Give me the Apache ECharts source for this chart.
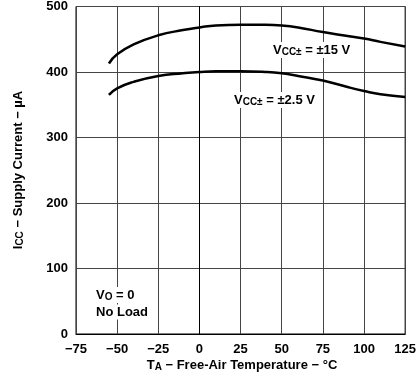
<!DOCTYPE html>
<html>
<head>
<meta charset="utf-8">
<script src="https://cdn.jsdelivr.net/npm/echarts@6/dist/echarts.min.js"></script>
<style>
  html, body { margin: 0; padding: 0; background: #fff; }
  #chart { width: 419px; height: 376px; }
</style>
</head>
<body>
<div id="chart"></div>
<script>
// free-air temperature (°C)
var temps = [-55, -50, -40, -25, -10, 0, 10, 25, 40, 50, 60, 75, 90, 100, 110, 125];
// supply current (uA), Vcc = +-15 V
var icc15 = [413, 427, 442, 456, 464, 468, 471, 472, 472, 471, 468, 461, 455, 451, 446, 439];
// supply current (uA), Vcc = +-2.5 V
var icc25 = [365, 375, 385, 394, 398, 400, 401, 401, 400, 398, 394, 387, 377, 371, 366, 362];

var xTicks = [-75, -50, -25, 0, 25, 50, 75, 100, 125];
var yTicks = [0, 100, 200, 300, 400, 500];

function pairs(xs, ys) {
  var out = [];
  for (var i = 0; i < xs.length; i++) {
    out.push([xs[i], ys[i]]);
  }
  return out;
}

var chart = echarts.init(document.getElementById('chart'), null, { renderer: 'canvas' });

var font = 'Liberation Sans, Arial, sans-serif';
var subStyle = { fontSize: 10, fontWeight: 'bold', fontFamily: font, fill: '#000', verticalAlign: 'bottom', padding: [4, 0, 0, 0] };

function label(text, x, y, align) {
  return {
    type: 'text',
    x: x,
    y: y,
    z: 10,
    style: {
      text: text,
      align: align || 'left',
      verticalAlign: 'middle',
      fontSize: 13,
      fontWeight: 'bold',
      fontFamily: font,
      fill: '#000',
      backgroundColor: '#fff',
      padding: [1, 2, 1, 2],
      rich: { sub: subStyle }
    }
  };
}

var option = {
  animation: false,
  grid: { left: 76, right: 11, top: 3, bottom: 42, show: true, borderColor: '#000', borderWidth: 1 },
  xAxis: {
    type: 'value',
    min: xTicks[0],
    max: xTicks[xTicks.length - 1],
    interval: 25,
    axisLine: { show: true, onZero: false, lineStyle: { color: '#000', width: 1 } },
    axisTick: { show: false },
    axisLabel: {
      margin: 9,
      fontSize: 13,
      fontWeight: 'bold',
      fontFamily: font,
      color: '#000',
      formatter: function(v) { return v < 0 ? '\u2212' + (-v) : String(v); }
    },
    splitLine: { show: true, lineStyle: { color: '#444', width: 1 } }
  },
  yAxis: {
    type: 'value',
    min: yTicks[0],
    max: yTicks[yTicks.length - 1],
    interval: 100,
    axisLine: { show: true, lineStyle: { color: '#000', width: 1 } },
    axisTick: { show: false },
    axisLabel: { margin: 8, fontSize: 13, fontWeight: 'bold', fontFamily: font, color: '#000' },
    splitLine: { show: true, lineStyle: { color: '#444', width: 1 } }
  },
  series: [
    {
      name: '15V',
      type: 'line',
      data: pairs(temps, icc15),
      smooth: 0.5,
      symbol: 'none',
      lineStyle: { color: '#000', width: 2.5 },
      z: 5
    },
    {
      name: '2.5V',
      type: 'line',
      data: pairs(temps, icc25),
      smooth: 0.5,
      symbol: 'none',
      lineStyle: { color: '#000', width: 2.5 },
      z: 5
    }
  ],
  graphic: [
    label('V{sub|CC\u00b1} = \u00b115 V', 271, 50),
    label('V{sub|CC\u00b1} = \u00b12.5 V', 232, 100),
    label('V{sub|O} = 0', 94, 295),
    label('No Load', 94, 312),
    {
      type: 'text',
      x: 242,
      y: 365,
      style: {
        text: 'T{sub|A} \u2212 Free-Air Temperature \u2212 \u00b0C',
        align: 'center',
        verticalAlign: 'middle',
        fontSize: 13,
        fontWeight: 'bold',
        fontFamily: font,
        fill: '#000',
        rich: { sub: subStyle }
      }
    },
    {
      type: 'text',
      x: 18,
      y: 170,
      rotation: Math.PI / 2,
      style: {
        text: 'I{sub|CC} \u2212 Supply Current \u2212 \u00b5A',
        align: 'center',
        verticalAlign: 'middle',
        fontSize: 13,
        fontWeight: 'bold',
        fontFamily: font,
        fill: '#000',
        rich: { sub: subStyle }
      }
    }
  ]
};

chart.setOption(option);
</script>
</body>
</html>
